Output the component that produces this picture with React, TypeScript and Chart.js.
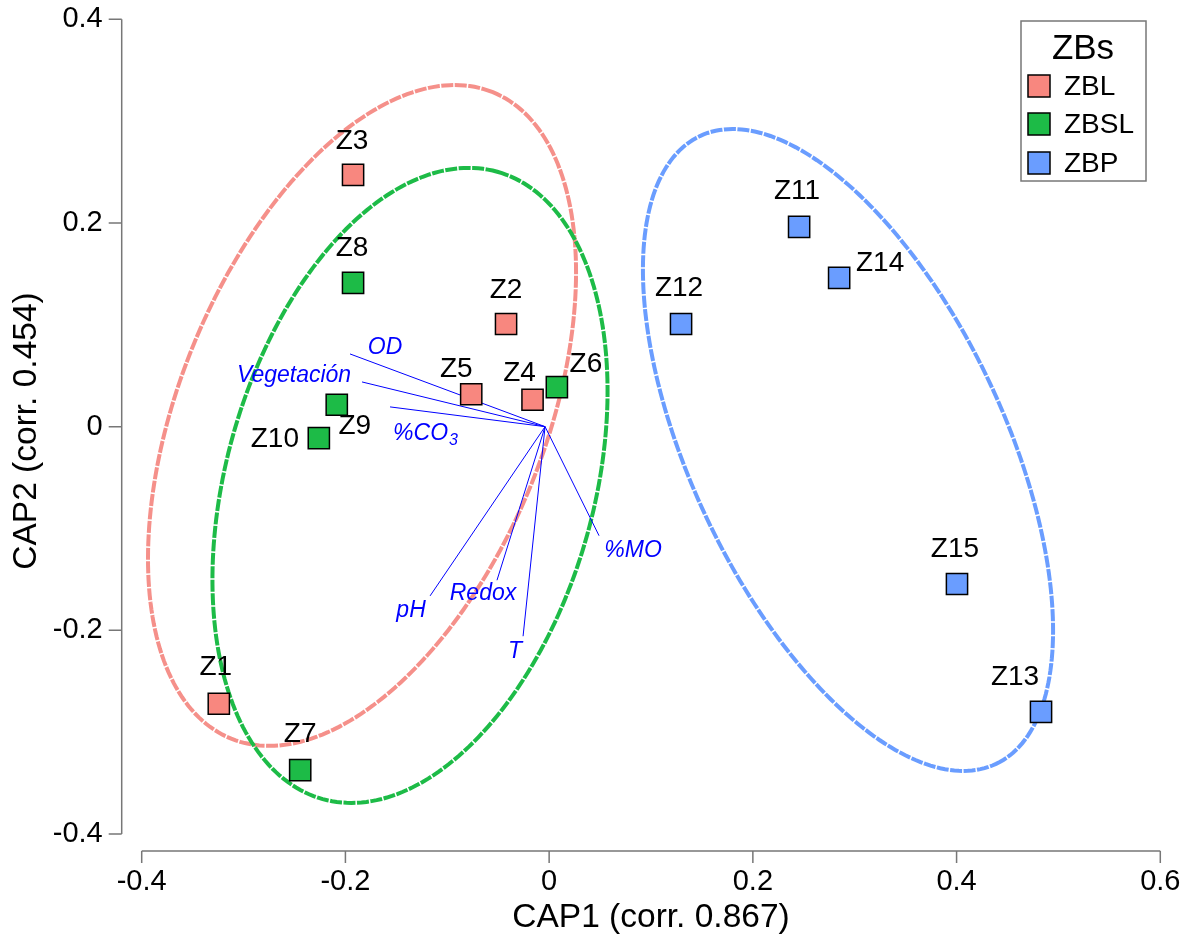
import React, { useEffect, useRef } from 'react';
import { Chart, registerables } from 'chart.js';

Chart.register(...registerables);

const FONT = "'Liberation Sans', Arial, Helvetica, sans-serif";

// ---- data ----
const groupNames = ['ZBL', 'ZBSL', 'ZBP'];

const zblLabels = ['Z1', 'Z2', 'Z3', 'Z4', 'Z5'];
const zblX = [-0.3243, -0.0423, -0.1925, -0.0163, -0.0765];
const zblY = [-0.2721, 0.1008, 0.2472, 0.0264, 0.0318];

const zbslLabels = ['Z6', 'Z7', 'Z8', 'Z9', 'Z10'];
const zbslX = [0.0076, -0.2444, -0.1925, -0.2085, -0.2261];
const zbslY = [0.0388, -0.3373, 0.1411, 0.0215, -0.0113];

const zbpLabels = ['Z11', 'Z12', 'Z13', 'Z14', 'Z15'];
const zbpX = [0.2454, 0.1295, 0.4829, 0.2847, 0.4004];
const zbpY = [0.1961, 0.1008, -0.2801, 0.146, -0.1545];

// environmental vectors
const envNames = ['OD', 'Vegetación', '%CO3', '%MO', 'pH', 'Redox', 'T'];
const envX = [-0.1955, -0.1837, -0.1562, 0.049, -0.1169, -0.0512, -0.0256];
const envY = [0.0714, 0.0439, 0.0194, -0.1071, -0.1662, -0.1508, -0.2058];
const envOrigin = [-0.004, 0.0];

// group ellipses (center, semi-axes, rotation in degrees)
const ellipseCX = [-0.1837, -0.1366, 0.2934];
const ellipseCY = [0.011, -0.0577, -0.0229];
const ellipseA = [0.3424, 0.3197, 0.3408];
const ellipseB = [0.1794, 0.1806, 0.154];
const ellipseAngle = [67.97, 74.45, -64.75];

const xTicks = [-0.4, -0.2, 0, 0.2, 0.4, 0.6];
const yTicks = [-0.4, -0.2, 0, 0.2, 0.4];

const xTitle = 'CAP1 (corr. 0.867)';
const yTitle = 'CAP2 (corr. 0.454)';
const legendTitle = 'ZBs';

// ---- styles / placement ----
const fillColors = ['#F8877F', '#1DBB47', '#6A9DFF'];
const ellipseColors = ['#F5908A', '#1DBB47', '#6A9DFF'];
const envColor = '#0000FF';
const axisColor = '#777777';

// label offsets in pixels relative to the point centre
const pointLabelOffsets: Record<string, [number, number]> = {
  Z1: [-3, -36], Z2: [0, -34], Z3: [-1, -34], Z4: [-13, -26], Z5: [-15, -25],
  Z6: [29, -23], Z7: [0, -36], Z8: [-1, -35], Z9: [18, 22], Z10: [-44, 1],
  Z11: [-2, -36], Z12: [-2, -36], Z13: [-26, -35], Z14: [41, -15], Z15: [-2, -35],
};
const envLabelOffsets: [number, number][] = [
  [35, -6], [-68, -6], [35, 27], [34, 15], [-19, 15], [-14, 13], [-8, 15],
];

const groupLabels = [zblLabels, zbslLabels, zbpLabels];
const groupX = [zblX, zbslX, zbpX];
const groupY = [zblY, zbslY, zbpY];

const fmt = (v: number) => (Math.abs(v) < 1e-9 ? '0' : v.toFixed(1));

const overlayPlugin = {
  id: 'overlay',
  beforeDatasetsDraw(chart: any) {
    const ctx = chart.ctx as CanvasRenderingContext2D;
    const xs = chart.scales.x;
    const ys = chart.scales.y;
    // ellipses
    for (let g = 0; g < ellipseCX.length; g++) {
      const th = (ellipseAngle[g] * Math.PI) / 180;
      const ux = Math.cos(th), uy = Math.sin(th);
      const vx = -Math.sin(th), vy = Math.cos(th);
      ctx.save();
      ctx.strokeStyle = ellipseColors[g];
      ctx.lineWidth = 4;
      ctx.setLineDash([12, 1.5]);
      ctx.beginPath();
      const n = 240;
      for (let i = 0; i <= n; i++) {
        const t = (i / n) * Math.PI * 2;
        const dx = ellipseA[g] * Math.cos(t) * ux + ellipseB[g] * Math.sin(t) * vx;
        const dy = ellipseA[g] * Math.cos(t) * uy + ellipseB[g] * Math.sin(t) * vy;
        const px = xs.getPixelForValue(ellipseCX[g] + dx);
        const py = ys.getPixelForValue(ellipseCY[g] + dy);
        if (i === 0) ctx.moveTo(px, py);
        else ctx.lineTo(px, py);
      }
      ctx.closePath();
      ctx.stroke();
      ctx.restore();
    }
    // env vectors
    const ox = xs.getPixelForValue(envOrigin[0]);
    const oy = ys.getPixelForValue(envOrigin[1]);
    ctx.save();
    ctx.strokeStyle = envColor;
    ctx.lineWidth = 1;
    for (let i = 0; i < envNames.length; i++) {
      ctx.beginPath();
      ctx.moveTo(ox, oy);
      ctx.lineTo(xs.getPixelForValue(envX[i]), ys.getPixelForValue(envY[i]));
      ctx.stroke();
    }
    ctx.restore();
  },
  afterDatasetsDraw(chart: any) {
    const ctx = chart.ctx as CanvasRenderingContext2D;
    const xs = chart.scales.x;
    const ys = chart.scales.y;

    // env labels
    ctx.save();
    ctx.fillStyle = envColor;
    ctx.textBaseline = 'middle';
    ctx.textAlign = 'center';
    for (let i = 0; i < envNames.length; i++) {
      const px = xs.getPixelForValue(envX[i]) + envLabelOffsets[i][0];
      const py = ys.getPixelForValue(envY[i]) + envLabelOffsets[i][1];
      const name = envNames[i];
      if (name === '%CO3') {
        const main = '%CO';
        ctx.font = `italic 23px ${FONT}`;
        const w1 = ctx.measureText(main).width;
        ctx.font = `italic 16px ${FONT}`;
        const w2 = ctx.measureText('3').width;
        const left = px - (w1 + w2) / 2;
        ctx.textAlign = 'left';
        ctx.font = `italic 23px ${FONT}`;
        ctx.fillText(main, left, py);
        ctx.font = `italic 16px ${FONT}`;
        ctx.fillText('3', left + w1 + 1, py + 7);
        ctx.textAlign = 'center';
      } else {
        ctx.font = `italic 23px ${FONT}`;
        ctx.fillText(name, px, py);
      }
    }
    ctx.restore();

    // point labels
    ctx.save();
    ctx.fillStyle = '#000';
    ctx.font = `28px ${FONT}`;
    ctx.textAlign = 'center';
    ctx.textBaseline = 'middle';
    for (let g = 0; g < groupLabels.length; g++) {
      for (let i = 0; i < groupLabels[g].length; i++) {
        const lab = groupLabels[g][i];
        const off = pointLabelOffsets[lab] || [0, -35];
        const px = xs.getPixelForValue(groupX[g][i]) + off[0];
        const py = ys.getPixelForValue(groupY[g][i]) + off[1];
        ctx.fillText(lab, px, py);
      }
    }
    ctx.restore();

    // axes (detached, R style)
    const xAxisY = ys.getPixelForValue(-0.4) + 17;
    const yAxisX = xs.getPixelForValue(-0.4) - 20;
    ctx.save();
    ctx.strokeStyle = axisColor;
    ctx.lineWidth = 1.5;
    ctx.beginPath();
    ctx.moveTo(xs.getPixelForValue(xTicks[0]), xAxisY);
    ctx.lineTo(xs.getPixelForValue(xTicks[xTicks.length - 1]), xAxisY);
    for (const t of xTicks) {
      const px = xs.getPixelForValue(t);
      ctx.moveTo(px, xAxisY);
      ctx.lineTo(px, xAxisY + 12);
    }
    ctx.moveTo(yAxisX, ys.getPixelForValue(yTicks[0]));
    ctx.lineTo(yAxisX, ys.getPixelForValue(yTicks[yTicks.length - 1]));
    for (const t of yTicks) {
      const py = ys.getPixelForValue(t);
      ctx.moveTo(yAxisX, py);
      ctx.lineTo(yAxisX - 13, py);
    }
    ctx.stroke();

    ctx.fillStyle = '#000';
    ctx.font = `29px ${FONT}`;
    ctx.textAlign = 'center';
    ctx.textBaseline = 'middle';
    for (const t of xTicks) {
      ctx.fillText(fmt(t), xs.getPixelForValue(t), xAxisY + 31);
    }
    ctx.textAlign = 'right';
    for (const t of yTicks) {
      ctx.fillText(fmt(t), yAxisX - 19, ys.getPixelForValue(t));
    }
    // titles
    ctx.textAlign = 'center';
    ctx.font = `33.5px ${FONT}`;
    ctx.fillText(xTitle, 651, 918);
    ctx.save();
    ctx.translate(27, 431);
    ctx.rotate(-Math.PI / 2);
    ctx.fillText(yTitle, 0, 0);
    ctx.restore();
    ctx.restore();

    // legend
    ctx.save();
    const lx = 1021, ly = 21, lw = 125, lh = 160;
    ctx.fillStyle = '#fff';
    ctx.fillRect(lx, ly, lw, lh);
    ctx.strokeStyle = axisColor;
    ctx.lineWidth = 1.5;
    ctx.strokeRect(lx, ly, lw, lh);
    ctx.fillStyle = '#000';
    ctx.font = `35px ${FONT}`;
    ctx.textAlign = 'center';
    ctx.textBaseline = 'middle';
    ctx.fillText(legendTitle, 1083, 49);
    const rows = [86, 124, 163];
    ctx.font = `28px ${FONT}`;
    ctx.textAlign = 'left';
    chart.data.datasets.forEach((ds: any, i: number) => {
      const cy = rows[i];
      ctx.fillStyle = ds.backgroundColor;
      ctx.fillRect(1028, cy - 11, 22, 22);
      ctx.strokeStyle = '#000';
      ctx.lineWidth = 1.5;
      ctx.strokeRect(1028, cy - 11, 22, 22);
      ctx.fillStyle = '#000';
      ctx.fillText(ds.label, 1064, cy + 1);
    });
    ctx.restore();
  },
};

export default function App() {
  const ref = useRef<HTMLCanvasElement | null>(null);
  useEffect(() => {
    if (!ref.current) return;
    const datasets = groupNames.map((name, g) => ({
      label: name,
      data: groupX[g].map((x, i) => ({ x, y: groupY[g][i] })),
      backgroundColor: fillColors[g],
      borderColor: '#000',
      borderWidth: 1.5,
      pointStyle: 'rect',
      pointRadius: 15,
      pointHoverRadius: 15,
    }));
    const chart = new Chart(ref.current, {
      type: 'scatter',
      data: { datasets },
      options: {
        animation: false,
        responsive: false,
        devicePixelRatio: 1,
        layout: { padding: { left: 141.7, right: 24.7, top: 19.3, bottom: 104 } },
        scales: {
          x: { type: 'linear', min: -0.4, max: 0.6, display: false },
          y: { type: 'linear', min: -0.4, max: 0.4, display: false },
        },
        plugins: { legend: { display: false }, tooltip: { enabled: false } },
      },
      plugins: [overlayPlugin],
    } as any);
    return () => chart.destroy();
  }, []);
  return (
    <div style={{ position: 'absolute', left: 0, top: 0, width: 1185, height: 938, background: '#fff' }}>
      <canvas ref={ref} width={1185} height={938} />
    </div>
  );
}
